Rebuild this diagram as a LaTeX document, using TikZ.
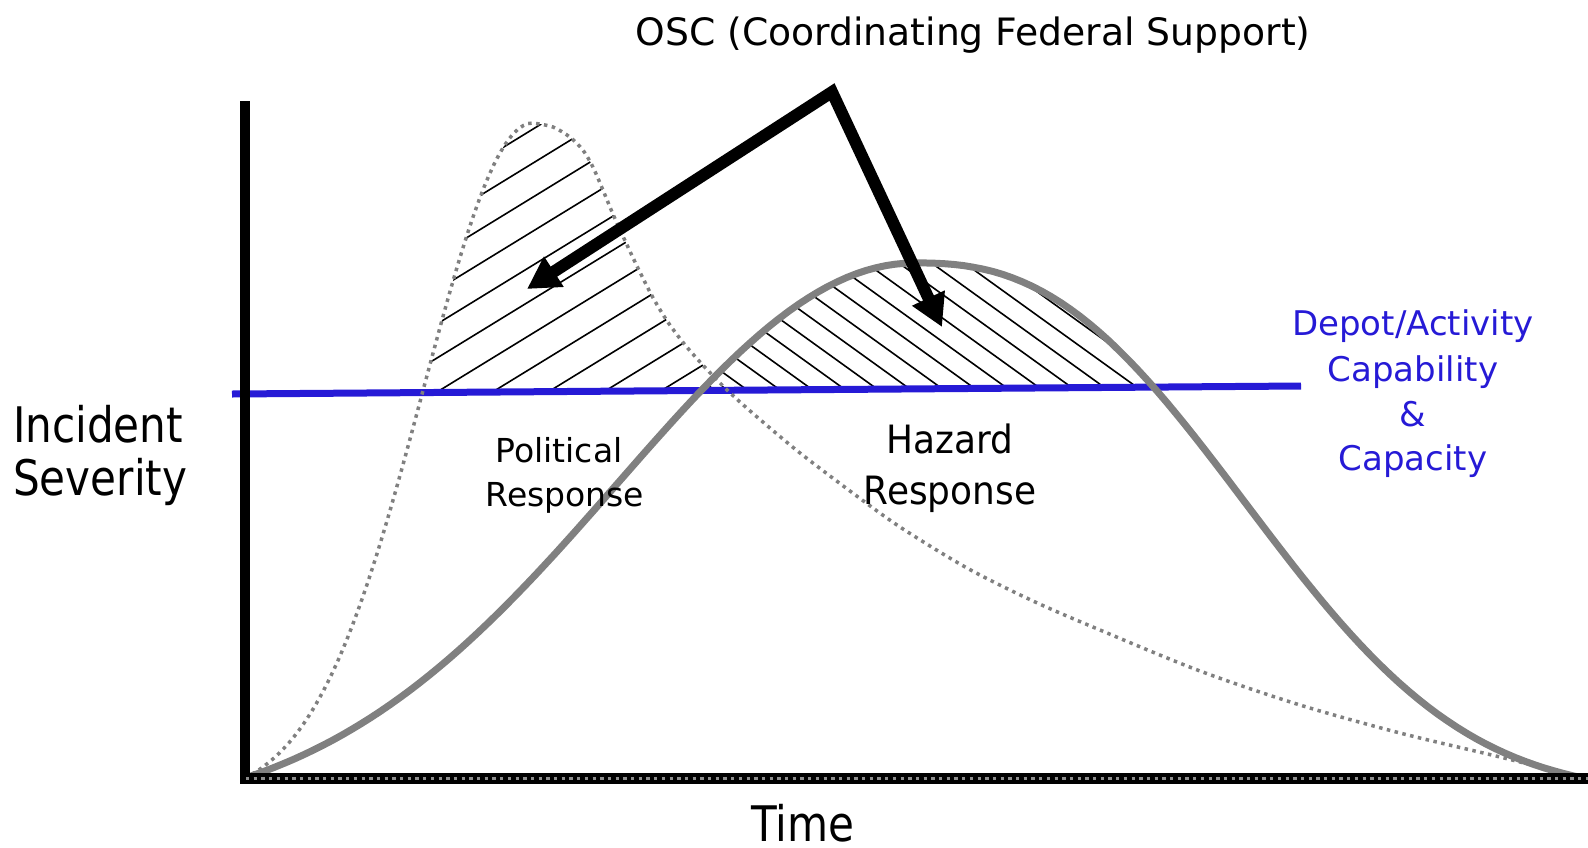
\documentclass[tikz,border=0pt]{standalone}
\usepackage{fontspec}
\setmainfont{DejaVu Sans}
\newfontfamily\narrowsans[FakeStretch=0.86]{DejaVu Sans}
\newfontfamily\hazardsans[FakeStretch=0.92]{DejaVu Sans}
\usepackage{xcolor}
\usetikzlibrary{positioning,arrows.meta}

\definecolor{capblue}{RGB}{38,26,214}
\definecolor{curvegray}{RGB}{128,128,128}

\tikzset{
  hatch/.style={black, line width=1.6pt},
  capline/.style={capblue, line width=7pt},
  hazcurve/.style={curvegray, line width=7pt},
  polcurve/.style={curvegray, line width=3.5pt, dash pattern=on 3.5pt off 4.5pt},
  oscarrow/.style={line width=12pt, miter limit=20,
    {Triangle[length=32pt,width=34pt]}-{Triangle[length=32pt,width=34pt]}},
  axislabel/.style={inner sep=0pt, font=\narrowsans\fontsize{49}{55}\selectfont},
  caplabel/.style={inner sep=0pt, text=capblue, font=\fontsize{34}{40}\selectfont},
}

% political response: steep rise, then a long tail
\newcommand\polpath{plot[domain=245:533,samples=60]
  (\x,{778-655*(exp(-1*((\x-533)/155)^2)-0.0317)/0.9683})
  -- plot[smooth] coordinates {(533,123) (553,127) (570,137.2) (583,150.2)
  (593,167.2) (603,190.2) (613,214.2) (627,245) (640,272.3) (653,297.7)
  (667,320.8) (683,342.4) (700,362) (720,383) (740,402) (767,425.5)
  (800,453) (850,491) (900,527) (967,568) (1033,601) (1100,630) (1200,671)
  (1300,705) (1400,733) (1500,757) (1583,778)}}
% hazard response: a broad hump
\newcommand\hazpath{plot[domain=245:915,samples=70]
  (\x,{778-515*(exp(-1*((\x-915)/420)^2)-0.0785)/0.9215})
  -- plot[domain=915.5:1583,samples=70]
  (\x,{778-515*(exp(-1*((\x-915)/405)^2.5)-0.0304)/0.9696})}

\begin{document}
\begin{tikzpicture}[x=1pt, y=-1pt]
  \useasboundingbox (0,0) rectangle (1588,847);

  \coordinate (ytop) at (245,101);
  \coordinate (ybot) at (245,784);
  \coordinate (xleft) at (240,778.5);
  \coordinate (xright) at (1588,778.5);
  \coordinate (capleft) at (232,394);
  \coordinate (capright) at (1301,386);

  % hatching of the political response above the capacity line
  \begin{scope}
    \clip \polpath -- cycle;
    \clip (capleft) -- (capright) -- (1301,0) -- (232,0) -- cycle;
    \foreach \xo in {-7,48.5,...,715}
      \draw[hatch] ({\xo-200},514.6) -- ({\xo+450},116.2);
  \end{scope}

  % hatching of the hazard response above the capacity line
  \begin{scope}
    \clip \hazpath -- cycle;
    \clip (capleft) -- (capright) -- (1301,0) -- (232,0) -- cycle;
    \foreach \xo in {714.4,747.2,...,1340}
      \draw[hatch] ({\xo-250},210) -- ({\xo+60},433.2);
  \end{scope}

  % capacity line
  \draw[capline] (capleft) -- (capright);

  % curves
  \draw[polcurve] \polpath;
  \draw[hazcurve] \hazpath;

  % axes
  \draw[line width=10pt] (ytop) -- (ybot);
  \draw[line width=11pt] (xleft) -- (xright);
  \draw[line width=3.3pt, curvegray!90, dash pattern=on 3.3pt off 4.4pt]
       (246,778.5) -- (xright);

  % OSC arrows
  \coordinate (apex) at (832,92);
  \coordinate (poltip) at (527,289);
  \coordinate (haztip) at (942,327);
  \draw[oscarrow] (poltip) -- (apex) -- (haztip);

  % labels
  \node[inner sep=0pt, anchor=base, font=\fontsize{37.7}{44}\selectfont] (osc)
       at (973,45) {OSC (Coordinating Federal Support)};

  \node[axislabel, anchor=base west] (incident) at (13,442) {Incident};
  \node[axislabel, anchor=base west] (severity) at (13,495) {Severity};
  \node[axislabel, anchor=base] (time) at (803,841) {Time};

  \node[inner sep=0pt, anchor=base, font=\fontsize{33}{40}\selectfont] (political)
       at (559,462) {Political};
  \node[inner sep=0pt, anchor=base, font=\fontsize{33}{40}\selectfont] (polresp)
       at (565,506) {Response};

  \node[inner sep=0pt, anchor=base, font=\hazardsans\fontsize{39}{46}\selectfont] (hazard)
       at (950,453) {Hazard};
  \node[inner sep=0pt, anchor=base, font=\hazardsans\fontsize{39}{46}\selectfont] (hazresp)
       at (950,504) {Response};

  \node[caplabel, anchor=base] (depot) at (1413,335) {Depot/Activity};
  \node[caplabel, anchor=base] (capability) at (1413,381) {Capability};
  \node[caplabel, anchor=base] (amp) at (1413,426) {\&};
  \node[caplabel, anchor=base] (capacity) at (1413,470) {Capacity};
\end{tikzpicture}
\end{document}
